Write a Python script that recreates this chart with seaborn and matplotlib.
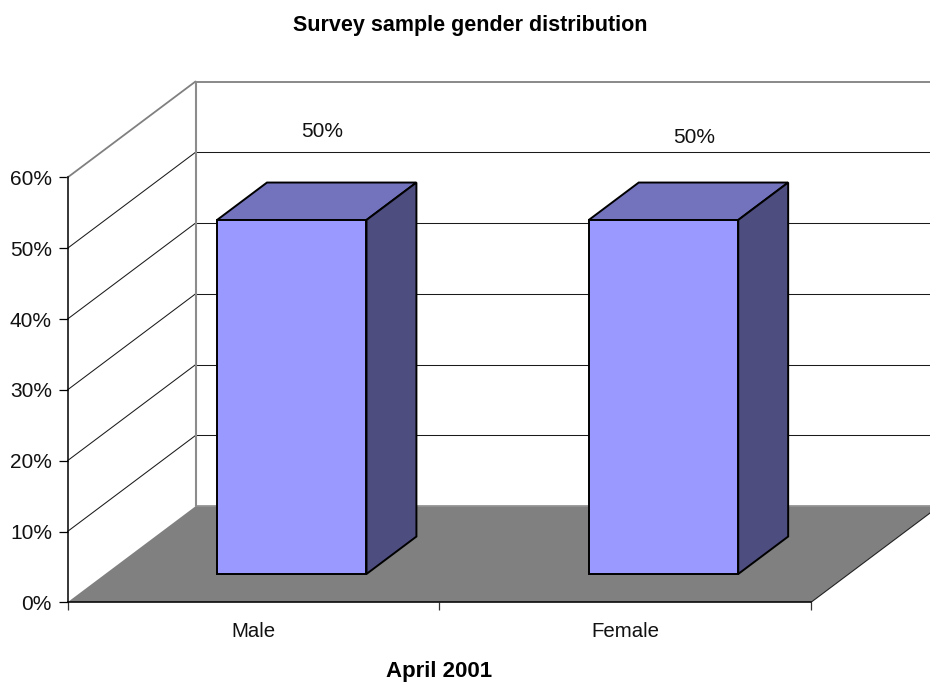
import matplotlib
matplotlib.use('Agg')
import matplotlib.pyplot as plt
from matplotlib.patches import Polygon
from matplotlib.ticker import PercentFormatter
from matplotlib.transforms import Affine2D
import pandas as pd
import seaborn as sns

categories = ['Male', 'Female']
shares = [0.5, 0.5]
y_ticks = [0, 0.1, 0.2, 0.3, 0.4, 0.5, 0.6]
category_edges = [-0.5, 0.5, 1.5]

W, H = 930, 682
FRONT, TOP, SIDE = '#9999ff', '#7373bd', '#4d4d80'
GREY = '#808080'

sns.set_theme(style='white')
plt.rcParams['font.family'] = ['Liberation Sans', 'DejaVu Sans']

fig = plt.figure(figsize=(W / 100, H / 100), dpi=100)
# front plane of the fake 3d box, pixel positions
ax = fig.add_axes([67.5 / W, 1 - 602.3 / H, (811 - 67.5) / W, (602.3 - 177.5) / H])

df = pd.DataFrame({'category': categories, 'share': shares})
sns.barplot(data=df, x='category', y='share', ax=ax, color=FRONT, saturation=1,
            width=0.402, edgecolor='black', linewidth=1.4, zorder=5)
ax.set_xlim(-0.5, 1.5)
ax.set_ylim(0, 0.6)

# depth vector of the box in data units
DX = 128 / (811 - 67.5) * 2
DY = 96 / (602.3 - 177.5) * 0.6
xl, xr = ax.get_xlim()


def depth(x, y, f=1.0):
    return (x + f * DX, y + f * DY)


# floor
ax.add_patch(Polygon([(xl, 0), (xr, 0), depth(xr, 0), depth(xl, 0)], closed=True,
                     facecolor=GREY, edgecolor='none', clip_on=False, zorder=1))
ax.plot([xr, depth(xr, 0)[0]], [0, depth(xr, 0)[1]], color='#222222', lw=0.8,
        clip_on=False, zorder=1.5)
ax.plot([xl + DX, xr + DX], [DY, DY], color='#8c8c8c', lw=1.2, clip_on=False, zorder=1.5)

# walls and gridlines
for t in y_ticks[1:]:
    top = t == y_ticks[-1]
    c = GREY if top else '#1a1a1a'
    lw = 1.3 if top else 0.75
    bx, by = depth(xl, t)
    ax.plot([xl, bx], [t, by], color=c, lw=lw, clip_on=False, zorder=2)
    ax.plot([bx, xr + DX], [by, by], color=c, lw=lw, clip_on=False, zorder=2)
ax.plot([xl + DX, xl + DX], [DY, 0.6 + DY], color='#8c8c8c', lw=1.5, clip_on=False, zorder=2)

# bars stand a bit behind the front plane
shift = Affine2D().translate(0.3 * DX, 0.295 * DY) + ax.transData
bar_depth = 0.39
for bar in list(ax.patches):
    if isinstance(bar, Polygon):
        continue
    bar.set_transform(shift)
    bar.set_clip_on(False)
    x0, x1 = bar.get_x(), bar.get_x() + bar.get_width()
    h = bar.get_height()
    ax.add_patch(Polygon([(x0, h), (x1, h), depth(x1, h, bar_depth), depth(x0, h, bar_depth)],
                         closed=True, facecolor=TOP, edgecolor='black', lw=1.4,
                         transform=shift, clip_on=False, zorder=4))
    ax.add_patch(Polygon([(x1, 0), depth(x1, 0, bar_depth), depth(x1, h, bar_depth), (x1, h)],
                         closed=True, facecolor=SIDE, edgecolor='black', lw=1.4,
                         transform=shift, clip_on=False, zorder=4))

# value labels, pixel nudges differ per bar in the original
label_nudge = [(69, 117), (69, 111)]
for i, v in enumerate(shares):
    ax.annotate(f'{v:.0%}', xy=(i, v), xycoords='data', xytext=label_nudge[i],
                textcoords='offset pixels', ha='center', va='center', fontsize=15,
                color='#111111', zorder=6, annotation_clip=False)

ax.yaxis.set_major_formatter(PercentFormatter(xmax=1, decimals=0))
ax.set_yticks(y_ticks)
ax.set_xticks(category_edges, minor=True)
ax.set_xticks(range(len(categories)), categories)
ax.tick_params(axis='y', left=True, length=6.2, width=0.9, color='black', pad=5,
               labelsize=15, labelcolor='#111111')
ax.tick_params(axis='x', which='major', bottom=False, length=0, pad=14.4, labelsize=14.7,
               labelcolor='#111111')
ax.tick_params(axis='x', which='minor', bottom=True, length=6, width=0.9, color='#333333')

sns.despine(ax=ax, top=True, right=True)
for s in ['left', 'bottom']:
    ax.spines[s].set_color('black')
    ax.spines[s].set_linewidth(1.1)
    ax.spines[s].set_zorder(3)
ax.patch.set_alpha(0)

ax.set_ylabel('')
ax.set_xlabel('April 2001', fontsize=16, fontweight='bold', color='black', labelpad=14.5)
fig.suptitle('Survey sample gender distribution', x=470 / W, y=1 - 25 / H, va='center',
             fontsize=15.5, fontweight='bold', color='black')

fig.savefig('out.png', dpi=100)
